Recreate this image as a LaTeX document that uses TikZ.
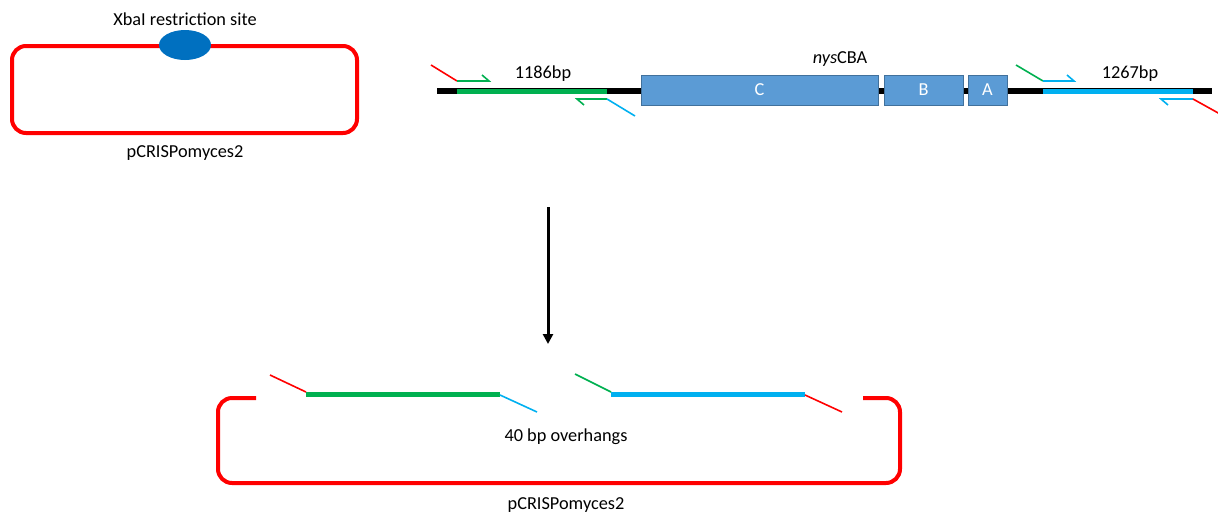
\documentclass[tikz,border=0pt]{standalone}
\usepackage{fontspec}
\setmainfont{Carlito}
\usetikzlibrary{arrows.meta,shapes.geometric}
\definecolor{pred}{HTML}{FF0000}
\definecolor{pgreen}{HTML}{00B050}
\definecolor{pblue}{HTML}{00B0F0}
\definecolor{site}{HTML}{0070C0}
\definecolor{genefill}{HTML}{5B9BD5}
\definecolor{genedraw}{HTML}{41719C}
\begin{document}
\begin{tikzpicture}[x=1pt,y=-1pt,
  lbl/.style={font=\fontsize{18.3}{22}\selectfont, inner sep=0pt},
  plasmid/.style={draw=pred, line width=4pt, rounded corners=14pt},
  gene/.style={draw=genedraw, fill=genefill, line width=0.8pt, text=white, font=\fontsize{18.3}{22}\selectfont, inner sep=0pt},
  dna/.style={line width=6pt, black},
  frag/.style={line width=5pt},
  tail/.style={line width=1.6pt},
  primer/.style={line width=1.6pt}]
\useasboundingbox (0,0) rectangle (1218,515);

% top plasmid
\draw[plasmid] (12,46) rectangle (357,133);
\node[ellipse, fill=site, minimum width=52pt, minimum height=30pt, inner sep=0pt] (xba) at (185,45) {};
\node[lbl] (xbalbl) at (185,19) {XbaI restriction site};
\node[lbl] (p1) at (185,153) {pCRISPomyces2};

% DNA line
\coordinate (d0) at (437,91);
\coordinate (d1) at (1212,91);
\draw[dna] (d0) -- (d1);
\coordinate (g0) at (457,91);
\coordinate (g1) at (607,91);
\coordinate (b0) at (1043,91);
\coordinate (b1) at (1193,91);
\draw[frag, pgreen] (g0) -- (g1);
\draw[frag, pblue] (b0) -- (b1);

% genes
\node[gene, minimum width=237pt, minimum height=30pt] (C) at (759.5,90) {C};
\node[gene, minimum width=79pt, minimum height=30pt] (B) at (923.5,90) {B};
\node[gene, minimum width=39pt, minimum height=30pt] (A) at (987.5,90) {A};
\node[lbl] (nys) at (840,59) {\textit{nys}CBA};
\node[lbl] (l1) at (543,74) {1186bp};
\node[lbl] (l2) at (1130,74) {1267bp};

% primers left
\coordinate (pl1) at (431,65);
\coordinate (pl2) at (457,81);
\coordinate (pl3) at (489,81);
\coordinate (pl4) at (482,75);
\draw[tail, pred] (pl1) -- (pl2);
\draw[primer, pgreen, line join=miter] (pl2) -- (pl3) -- (pl4);
\coordinate (pr1) at (607,99);
\coordinate (pr2) at (577,99);
\coordinate (pr3) at (584,105);
\coordinate (pr4) at (635,116);
\draw[primer, pgreen] (pr1) -- (pr2) -- (pr3);
\draw[tail, pblue] (pr1) -- (pr4);

% primers right
\coordinate (ql1) at (1016,65);
\coordinate (ql2) at (1043,81);
\coordinate (ql3) at (1074,81);
\coordinate (ql4) at (1067,75);
\draw[tail, pgreen] (ql1) -- (ql2);
\draw[primer, pblue] (ql2) -- (ql3) -- (ql4);
\coordinate (qr1) at (1193,99);
\coordinate (qr2) at (1161,99);
\coordinate (qr3) at (1168,105);
\coordinate (qr4) at (1220,114);
\draw[primer, pblue] (qr1) -- (qr2) -- (qr3);
\draw[tail, pred] (qr1) -- (qr4);

% arrow
\coordinate (a0) at (548,207);
\coordinate (a1) at (548,344);
\draw[line width=3pt, -{Triangle[length=10pt,width=10pt]}] (a0) -- (a1);

% bottom plasmid
\draw[plasmid] (256,398) -- (218,398) -- (218,483) -- (900,483) -- (900,398) -- (863,398);
\coordinate (h0) at (306,394);
\coordinate (h1) at (500,394);
\coordinate (k0) at (611,394);
\coordinate (k1) at (805,394);
\draw[frag, pgreen] (h0) -- (h1);
\draw[frag, pblue] (k0) -- (k1);
\coordinate (t1) at (270,375);
\coordinate (t2) at (537,412);
\coordinate (t3) at (575,374);
\coordinate (t4) at (842,412);
\draw[tail, pred] (t1) -- (306,392);
\draw[tail, pblue] (500,395) -- (t2);
\draw[tail, pgreen] (t3) -- (611,392);
\draw[tail, pred] (805,395) -- (t4);
\node[lbl] (ov) at (566,437) {40 bp overhangs};
\node[lbl] (p2) at (566,505) {pCRISPomyces2};
\end{tikzpicture}
\end{document}
